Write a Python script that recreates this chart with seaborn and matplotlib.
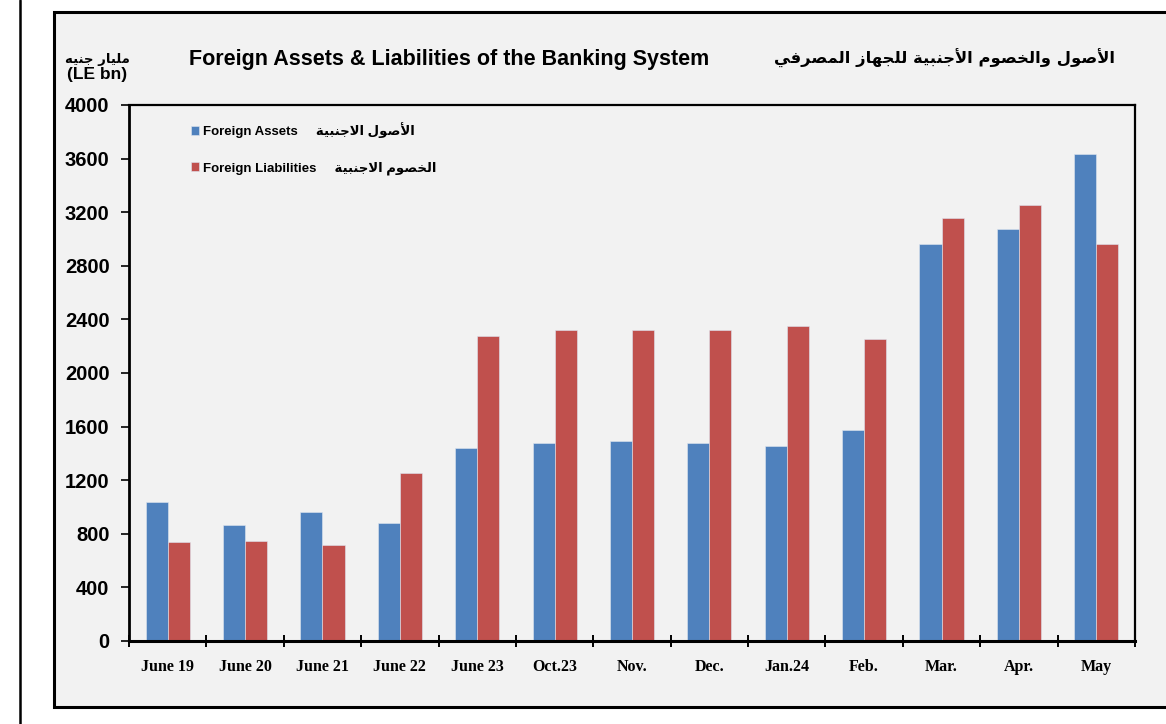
import matplotlib
matplotlib.use("Agg")
import matplotlib.pyplot as plt
import matplotlib.patches as mpatches
from matplotlib.lines import Line2D
from matplotlib.ticker import FixedLocator
import seaborn as sns
import pandas as pd

# ---------------- data ----------------
periods = ["June 19", "June 20", "June 21", "June 22", "June 23", "Oct.23", "Nov.",
           "Dec.", "Jan.24", "Feb.", "Mar.", "Apr.", "May"]
foreign_assets = [1040, 866, 965, 881, 1440, 1478, 1493, 1478, 1455, 1575, 2963, 3075, 3634]
foreign_liabilities = [741, 745, 713, 1254, 2276, 2321, 2321, 2321, 2351, 2254, 3157, 3254, 2963]
series_en = ["Foreign Assets", "Foreign Liabilities"]
series_ar = ["الأصول الاجنبية", "الخصوم الاجنبية"]
title_en = "Foreign Assets & Liabilities of the Banking System"
title_ar = "الأصول والخصوم الأجنبية للجهاز المصرفي"
unit_ar = "مليار جنيه"
unit_en = "(LE bn)"
y_ticks = [0, 400, 800, 1200, 1600, 2000, 2400, 2800, 3200, 3600, 4000]

colors = ["#4F81BD", "#C0504D"]
panel_bg = "#F2F2F2"

# ------------- minimal Arabic shaping (matplotlib has no text shaping) -------------
FORMS = {
    '\u0627': ('\uFE8D', '\uFE8E', None, None),
    '\u0623': ('\uFE83', '\uFE84', None, None),
    '\u0628': ('\uFE8F', '\uFE90', '\uFE91', '\uFE92'),
    '\u0629': ('\uFE93', '\uFE94', None, None),
    '\u062C': ('\uFE9D', '\uFE9E', '\uFE9F', '\uFEA0'),
    '\u062E': ('\uFEA5', '\uFEA6', '\uFEA7', '\uFEA8'),
    '\u0631': ('\uFEAD', '\uFEAE', None, None),
    '\u0632': ('\uFEAF', '\uFEB0', None, None),
    '\u0635': ('\uFEB9', '\uFEBA', '\uFEBB', '\uFEBC'),
    '\u0641': ('\uFED1', '\uFED2', '\uFED3', '\uFED4'),
    '\u0644': ('\uFEDD', '\uFEDE', '\uFEDF', '\uFEE0'),
    '\u0645': ('\uFEE1', '\uFEE2', '\uFEE3', '\uFEE4'),
    '\u0646': ('\uFEE5', '\uFEE6', '\uFEE7', '\uFEE8'),
    '\u0647': ('\uFEE9', '\uFEEA', '\uFEEB', '\uFEEC'),
    '\u0648': ('\uFEED', '\uFEEE', None, None),
    '\u064A': ('\uFEF1', '\uFEF2', '\uFEF3', '\uFEF4'),
    'LA': ('\uFEFB', '\uFEFC', None, None),
    'LAH': ('\uFEF7', '\uFEF8', None, None),
}


def shape(s):
    toks = []
    i = 0
    while i < len(s):
        c = s[i]
        if c == '\u0644' and i + 1 < len(s) and s[i + 1] in ('\u0627', '\u0623'):
            toks.append('LA' if s[i + 1] == '\u0627' else 'LAH')
            i += 2
        else:
            toks.append(c)
            i += 1
    out = []
    for k, t in enumerate(toks):
        f = FORMS.get(t)
        if f is None:
            out.append(t)
            continue
        prev = toks[k - 1] if k > 0 else None
        nxt = toks[k + 1] if k + 1 < len(toks) else None
        jp = prev in FORMS and FORMS[prev][2] is not None
        jn = f[2] is not None and nxt in FORMS
        if jp and jn:
            g = f[3]
        elif jp:
            g = f[1]
        elif jn:
            g = f[2]
        else:
            g = f[0]
        out.append(g)
    return ''.join(reversed(out))


# ---------------- figure ----------------
sns.set_style("ticks")
plt.rcParams['font.family'] = ['Liberation Sans', 'DejaVu Sans']
plt.rcParams['font.weight'] = 'bold'
for key in ("text.color", "axes.labelcolor", "xtick.color", "ytick.color", "axes.edgecolor"):
    plt.rcParams[key] = "black"

W, H = 1166, 724
fig = plt.figure(figsize=(W / 100, H / 100), dpi=100)
fig.patch.set_facecolor("white")

# outer decorations
fig.add_artist(Line2D([20 / W, 20 / W], [0, 1], transform=fig.transFigure, color="black", lw=1.8))
fig.add_artist(mpatches.Rectangle((54 / W, (H - 707) / H), 1.2, (707 - 12) / H,
                                  transform=fig.transFigure, facecolor=panel_bg,
                                  edgecolor="black", lw=2.2, zorder=0))

ax = fig.add_axes([129 / W, (H - 641) / H, (1135 - 129) / W, (641 - 105) / H])
ax.set_facecolor(panel_bg)

df = pd.DataFrame({
    "period": periods * 2,
    "value": foreign_assets + foreign_liabilities,
    "series": [series_en[0]] * len(periods) + [series_en[1]] * len(periods),
})

sns.barplot(data=df, x="period", y="value", hue="series", palette=colors,
            width=0.57, saturation=1, ax=ax, edgecolor="#dfe6f0", linewidth=0.4)

ax.set_xlim(-0.5, len(periods) - 0.5)
ax.set_ylim(0, 4000)
ax.set_yticks(y_ticks)
ax.set_xlabel("")
ax.set_ylabel("")

for sp in ax.spines.values():
    sp.set_visible(True)
    sp.set_color("black")
    sp.set_linewidth(1.6)
ax.spines["bottom"].set_linewidth(2.2)
ax.spines["left"].set_linewidth(2.0)

ax.tick_params(axis="y", direction="out", length=6, width=1.2, pad=8, labelsize=14.5,
               colors="black")
for lab in ax.get_yticklabels():
    lab.set_fontweight("bold")
    lab.set_family(['Liberation Sans', 'DejaVu Sans'])

ax.tick_params(axis="x", which="major", length=0, pad=13, colors="black")
ax.xaxis.set_minor_locator(FixedLocator([i - 0.5 for i in range(len(periods) + 1)]))
ax.tick_params(axis="x", which="minor", direction="inout", length=9, width=1.4, colors="black")
ax.set_xticks(range(len(periods)))
ax.set_xticklabels(periods, family=['Liberation Serif', 'DejaVu Serif'], fontweight="bold",
                   fontsize=11.5, color="black")

# legend
handles, _ = ax.get_legend_handles_labels()
labels = [f"{series_en[0]}     {shape(series_ar[0])}",
          f"{series_en[1]}     {shape(series_ar[1])}"]
leg = ax.legend(handles, labels, loc="upper left", bbox_to_anchor=(0.062, 0.968),
                frameon=False, handlelength=0.6, handleheight=0.6, handletextpad=0.3,
                borderpad=0, borderaxespad=0, labelspacing=1.75,
                prop={"family": ['Liberation Sans', 'DejaVu Sans'], "weight": "bold", "size": 9.5})
for t in leg.get_texts():
    t.set_color("black")

# titles
fig.text(449 / W, 1 - 60 / H, title_en, ha="center", va="center", fontsize=15.5,
         fontweight="bold", family=['Liberation Sans', 'DejaVu Sans'], color="black")
fig.text(944 / W, 1 - 58 / H, shape(title_ar), ha="center", va="center", fontsize=11.8,
         fontweight="bold", family=['DejaVu Sans'], color="black")
fig.text(97 / W, 1 - 59 / H, shape(unit_ar), ha="center", va="center", fontsize=9.5,
         fontweight="bold", family=['DejaVu Sans'], color="black")
fig.text(97 / W, 1 - 74 / H, unit_en, ha="center", va="center", fontsize=12.5,
         fontweight="bold", family=['Liberation Sans', 'DejaVu Sans'], color="black")

fig.savefig("out.png", dpi=100, facecolor="white")
